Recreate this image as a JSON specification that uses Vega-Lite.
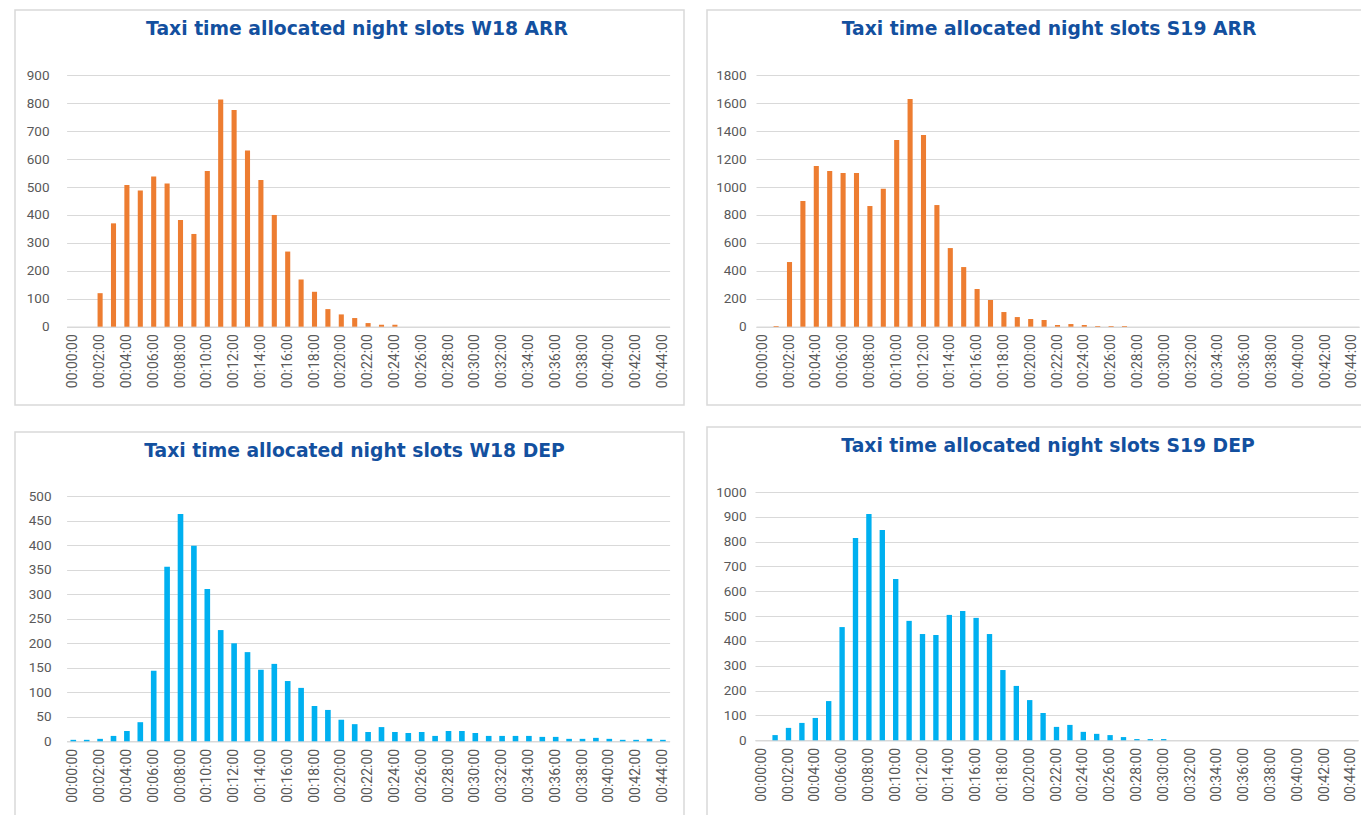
{
  "$schema": "https://vega.github.io/schema/vega-lite/v6.json",
  "background": "white",
  "padding": {"left": 14, "top": 9, "right": 0, "bottom": 0},
  "datasets": {
    "w18arr": [
      {"t": "00:02:00", "n": 120}, {"t": "00:03:00", "n": 370}, {"t": "00:04:00", "n": 507}, {"t": "00:05:00", "n": 488},
      {"t": "00:06:00", "n": 538}, {"t": "00:07:00", "n": 513}, {"t": "00:08:00", "n": 382}, {"t": "00:09:00", "n": 332},
      {"t": "00:10:00", "n": 557}, {"t": "00:11:00", "n": 813}, {"t": "00:12:00", "n": 776}, {"t": "00:13:00", "n": 631},
      {"t": "00:14:00", "n": 525}, {"t": "00:15:00", "n": 400}, {"t": "00:16:00", "n": 269}, {"t": "00:17:00", "n": 169},
      {"t": "00:18:00", "n": 125}, {"t": "00:19:00", "n": 63}, {"t": "00:20:00", "n": 44}, {"t": "00:21:00", "n": 31},
      {"t": "00:22:00", "n": 13}, {"t": "00:23:00", "n": 7}, {"t": "00:24:00", "n": 7}
    ],
    "s19arr": [
      {"t": "00:01:00", "n": 5}, {"t": "00:02:00", "n": 463}, {"t": "00:03:00", "n": 900}, {"t": "00:04:00", "n": 1151},
      {"t": "00:05:00", "n": 1115}, {"t": "00:06:00", "n": 1100}, {"t": "00:07:00", "n": 1100}, {"t": "00:08:00", "n": 864},
      {"t": "00:09:00", "n": 988}, {"t": "00:10:00", "n": 1337}, {"t": "00:11:00", "n": 1630}, {"t": "00:12:00", "n": 1373},
      {"t": "00:13:00", "n": 871}, {"t": "00:14:00", "n": 563}, {"t": "00:15:00", "n": 427}, {"t": "00:16:00", "n": 270},
      {"t": "00:17:00", "n": 191}, {"t": "00:18:00", "n": 105}, {"t": "00:19:00", "n": 69}, {"t": "00:20:00", "n": 55},
      {"t": "00:21:00", "n": 48}, {"t": "00:22:00", "n": 12}, {"t": "00:23:00", "n": 19}, {"t": "00:24:00", "n": 12},
      {"t": "00:25:00", "n": 5}, {"t": "00:26:00", "n": 5}, {"t": "00:27:00", "n": 5}
    ],
    "w18dep": [
      {"t": "00:00:00", "n": 3}, {"t": "00:01:00", "n": 3}, {"t": "00:02:00", "n": 5}, {"t": "00:03:00", "n": 11},
      {"t": "00:04:00", "n": 21}, {"t": "00:05:00", "n": 39}, {"t": "00:06:00", "n": 144}, {"t": "00:07:00", "n": 356},
      {"t": "00:08:00", "n": 464}, {"t": "00:09:00", "n": 399}, {"t": "00:10:00", "n": 311}, {"t": "00:11:00", "n": 227},
      {"t": "00:12:00", "n": 200}, {"t": "00:13:00", "n": 182}, {"t": "00:14:00", "n": 146}, {"t": "00:15:00", "n": 158},
      {"t": "00:16:00", "n": 123}, {"t": "00:17:00", "n": 109}, {"t": "00:18:00", "n": 72}, {"t": "00:19:00", "n": 64},
      {"t": "00:20:00", "n": 44}, {"t": "00:21:00", "n": 35}, {"t": "00:22:00", "n": 19}, {"t": "00:23:00", "n": 29},
      {"t": "00:24:00", "n": 19}, {"t": "00:25:00", "n": 17}, {"t": "00:26:00", "n": 19}, {"t": "00:27:00", "n": 11},
      {"t": "00:28:00", "n": 21}, {"t": "00:29:00", "n": 21}, {"t": "00:30:00", "n": 17}, {"t": "00:31:00", "n": 11},
      {"t": "00:32:00", "n": 11}, {"t": "00:33:00", "n": 11}, {"t": "00:34:00", "n": 11}, {"t": "00:35:00", "n": 9},
      {"t": "00:36:00", "n": 9}, {"t": "00:37:00", "n": 5}, {"t": "00:38:00", "n": 5}, {"t": "00:39:00", "n": 7},
      {"t": "00:40:00", "n": 5}, {"t": "00:41:00", "n": 3}, {"t": "00:42:00", "n": 3}, {"t": "00:43:00", "n": 5},
      {"t": "00:44:00", "n": 3}
    ],
    "s19dep": [
      {"t": "00:01:00", "n": 21}, {"t": "00:02:00", "n": 50}, {"t": "00:03:00", "n": 70}, {"t": "00:04:00", "n": 90},
      {"t": "00:05:00", "n": 158}, {"t": "00:06:00", "n": 456}, {"t": "00:07:00", "n": 815}, {"t": "00:08:00", "n": 911},
      {"t": "00:09:00", "n": 847}, {"t": "00:10:00", "n": 650}, {"t": "00:11:00", "n": 481}, {"t": "00:12:00", "n": 428},
      {"t": "00:13:00", "n": 424}, {"t": "00:14:00", "n": 505}, {"t": "00:15:00", "n": 521}, {"t": "00:16:00", "n": 493},
      {"t": "00:17:00", "n": 428}, {"t": "00:18:00", "n": 283}, {"t": "00:19:00", "n": 219}, {"t": "00:20:00", "n": 162},
      {"t": "00:21:00", "n": 110}, {"t": "00:22:00", "n": 54}, {"t": "00:23:00", "n": 62}, {"t": "00:24:00", "n": 34},
      {"t": "00:25:00", "n": 26}, {"t": "00:26:00", "n": 21}, {"t": "00:27:00", "n": 13}, {"t": "00:28:00", "n": 5},
      {"t": "00:29:00", "n": 5}, {"t": "00:30:00", "n": 5}
    ]
  },
  "spacing": 21,
  "hconcat": [
    {
      "spacing": 25,
      "vconcat": [
        {
          "width": 669, "height": 395,
          "data": {"name": "w18arr"},
          "title": {"text": "Taxi time allocated night slots W18 ARR", "offset": -29, "dx": 7.5},
          "mark": {"type": "bar", "color": "#ED7D31"},
          "encoding": {
            "x": {"field": "t", "type": "ordinal",
              "scale": {"domain": ["00:00:00","00:01:00","00:02:00","00:03:00","00:04:00","00:05:00","00:06:00","00:07:00","00:08:00","00:09:00","00:10:00","00:11:00","00:12:00","00:13:00","00:14:00","00:15:00","00:16:00","00:17:00","00:18:00","00:19:00","00:20:00","00:21:00","00:22:00","00:23:00","00:24:00","00:25:00","00:26:00","00:27:00","00:28:00","00:29:00","00:30:00","00:31:00","00:32:00","00:33:00","00:34:00","00:35:00","00:36:00","00:37:00","00:38:00","00:39:00","00:40:00","00:41:00","00:42:00","00:43:00","00:44:00"], "range": [51.6, 654.6], "paddingInner": 0.62, "paddingOuter": 0.31},
              "axis": {"offset": -78.3, "values": ["00:00:00","00:02:00","00:04:00","00:06:00","00:08:00","00:10:00","00:12:00","00:14:00","00:16:00","00:18:00","00:20:00","00:22:00","00:24:00","00:26:00","00:28:00","00:30:00","00:32:00","00:34:00","00:36:00","00:38:00","00:40:00","00:42:00","00:44:00"]}},
            "y": {"field": "n", "type": "quantitative",
              "scale": {"domain": [0, 900], "range": [316.7, 65.3], "nice": false},
              "axis": {"offset": -34, "values": [0,100,200,300,400,500,600,700,800,900]}}
          }
        },
        {
          "width": 669, "height": 395,
          "data": {"name": "w18dep"},
          "title": {"text": "Taxi time allocated night slots W18 DEP", "offset": -29, "dx": 5},
          "mark": {"type": "bar", "color": "#00B0F0"},
          "encoding": {
            "x": {"field": "t", "type": "ordinal",
              "scale": {"domain": ["00:00:00","00:01:00","00:02:00","00:03:00","00:04:00","00:05:00","00:06:00","00:07:00","00:08:00","00:09:00","00:10:00","00:11:00","00:12:00","00:13:00","00:14:00","00:15:00","00:16:00","00:17:00","00:18:00","00:19:00","00:20:00","00:21:00","00:22:00","00:23:00","00:24:00","00:25:00","00:26:00","00:27:00","00:28:00","00:29:00","00:30:00","00:31:00","00:32:00","00:33:00","00:34:00","00:35:00","00:36:00","00:37:00","00:38:00","00:39:00","00:40:00","00:41:00","00:42:00","00:43:00","00:44:00"], "range": [51.6, 654.6], "paddingInner": 0.58, "paddingOuter": 0.29},
              "axis": {"offset": -85.7, "values": ["00:00:00","00:02:00","00:04:00","00:06:00","00:08:00","00:10:00","00:12:00","00:14:00","00:16:00","00:18:00","00:20:00","00:22:00","00:24:00","00:26:00","00:28:00","00:30:00","00:32:00","00:34:00","00:36:00","00:38:00","00:40:00","00:42:00","00:44:00"]}},
            "y": {"field": "n", "type": "quantitative",
              "scale": {"domain": [0, 500], "range": [309.3, 64.3], "nice": false},
              "axis": {"offset": -36, "values": [0,50,100,150,200,250,300,350,400,450,500]}}
          }
        }
      ]
    },
    {
      "spacing": 20,
      "vconcat": [
        {
          "width": 668, "height": 395,
          "data": {"name": "s19arr"},
          "title": {"text": "Taxi time allocated night slots S19 ARR", "offset": -29, "dx": 8},
          "mark": {"type": "bar", "color": "#ED7D31"},
          "encoding": {
            "x": {"field": "t", "type": "ordinal",
              "scale": {"domain": ["00:00:00","00:01:00","00:02:00","00:03:00","00:04:00","00:05:00","00:06:00","00:07:00","00:08:00","00:09:00","00:10:00","00:11:00","00:12:00","00:13:00","00:14:00","00:15:00","00:16:00","00:17:00","00:18:00","00:19:00","00:20:00","00:21:00","00:22:00","00:23:00","00:24:00","00:25:00","00:26:00","00:27:00","00:28:00","00:29:00","00:30:00","00:31:00","00:32:00","00:33:00","00:34:00","00:35:00","00:36:00","00:37:00","00:38:00","00:39:00","00:40:00","00:41:00","00:42:00","00:43:00","00:44:00"], "range": [49, 652], "paddingInner": 0.62, "paddingOuter": 0.31},
              "axis": {"offset": -78.3, "values": ["00:00:00","00:02:00","00:04:00","00:06:00","00:08:00","00:10:00","00:12:00","00:14:00","00:16:00","00:18:00","00:20:00","00:22:00","00:24:00","00:26:00","00:28:00","00:30:00","00:32:00","00:34:00","00:36:00","00:38:00","00:40:00","00:42:00","00:44:00"]}},
            "y": {"field": "n", "type": "quantitative",
              "scale": {"domain": [0, 1800], "range": [316.7, 65.3], "nice": false},
              "axis": {"offset": -39, "values": [0,200,400,600,800,1000,1200,1400,1600,1800]}}
          }
        },
        {
          "width": 668, "height": 395,
          "data": {"name": "s19dep"},
          "title": {"text": "Taxi time allocated night slots S19 DEP", "offset": -29, "dx": 7},
          "mark": {"type": "bar", "color": "#00B0F0"},
          "encoding": {
            "x": {"field": "t", "type": "ordinal",
              "scale": {"domain": ["00:00:00","00:01:00","00:02:00","00:03:00","00:04:00","00:05:00","00:06:00","00:07:00","00:08:00","00:09:00","00:10:00","00:11:00","00:12:00","00:13:00","00:14:00","00:15:00","00:16:00","00:17:00","00:18:00","00:19:00","00:20:00","00:21:00","00:22:00","00:23:00","00:24:00","00:25:00","00:26:00","00:27:00","00:28:00","00:29:00","00:30:00","00:31:00","00:32:00","00:33:00","00:34:00","00:35:00","00:36:00","00:37:00","00:38:00","00:39:00","00:40:00","00:41:00","00:42:00","00:43:00","00:44:00"], "range": [48, 651], "paddingInner": 0.6, "paddingOuter": 0.3},
              "axis": {"offset": -81.7, "values": ["00:00:00","00:02:00","00:04:00","00:06:00","00:08:00","00:10:00","00:12:00","00:14:00","00:16:00","00:18:00","00:20:00","00:22:00","00:24:00","00:26:00","00:28:00","00:30:00","00:32:00","00:34:00","00:36:00","00:38:00","00:40:00","00:42:00","00:44:00"]}},
            "y": {"field": "n", "type": "quantitative",
              "scale": {"domain": [0, 1000], "range": [313.3, 65], "nice": false},
              "axis": {"offset": -39, "values": [0,100,200,300,400,500,600,700,800,900,1000]}}
          }
        }
      ]
    }
  ],
  "config": {
    "view": {"stroke": "#d9d9d9", "strokeWidth": 1.5},
    "title": {"anchor": "middle", "frame": "group", "baseline": "alphabetic", "font": "DejaVu Sans", "fontWeight": 700, "fontSize": 18.75, "color": "#13509f"},
    "axisX": {"title": null, "labelAngle": -90, "labelAlign": "right", "labelBaseline": "middle", "labelPadding": 7, "ticks": false, "tickSize": 0, "grid": false, "domain": true, "domainColor": "#d9d9d9", "domainWidth": 1.5, "labelFont": "Roboto", "labelFontSize": 14, "labelColor": "#595959", "labelOverlap": false, "labelBound": false},
    "axisY": {"title": null, "format": "d", "ticks": false, "tickSize": 0, "labelPadding": 0, "domain": false, "grid": true, "gridColor": "#d9d9d9", "gridWidth": 1, "labelFont": "Roboto", "labelFontSize": 13.5, "labelColor": "#595959", "labelOverlap": false, "labelFlush": false, "labelBound": false}
  }
}
